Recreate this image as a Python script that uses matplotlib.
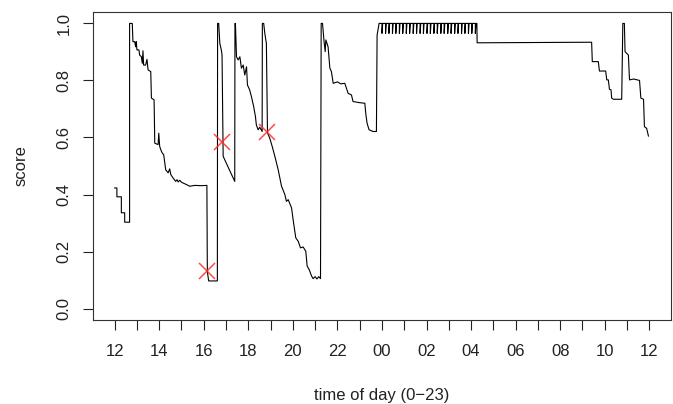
import matplotlib
matplotlib.use("Agg")
import matplotlib.pyplot as plt

# score trace, hours counted from noon (12 -> 36 = noon next day)
hours = [
    12.00, 12.10, 12.10, 12.30, 12.30, 12.45, 12.45, 12.67, 12.67, 12.79,
    12.82, 12.90, 12.94, 12.97, 13.00, 13.09, 13.12, 13.20, 13.24, 13.27,
    13.30, 13.39, 13.45, 13.50, 13.62, 13.65, 13.77, 13.80, 13.95, 13.98,
    14.02, 14.07, 14.14, 14.20, 14.29, 14.40, 14.47, 14.52, 14.62, 14.74,
    14.80, 14.85, 14.92, 15.00, 15.22, 15.37, 15.60, 15.90, 16.14, 16.16,
    16.22, 16.61, 16.62, 16.67, 16.72, 16.79, 16.82, 16.87, 17.39, 17.40,
    17.42, 17.47, 17.54, 17.62, 17.69, 17.77, 17.84, 17.92, 17.96, 18.06,
    18.14, 18.24, 18.32, 18.36, 18.44, 18.51, 18.62, 18.63, 18.69, 18.74,
    18.81, 18.86, 18.96, 19.07, 19.19, 19.34, 19.41, 19.49, 19.64, 19.71,
    19.79, 19.94, 20.01, 20.13, 20.24, 20.34, 20.46, 20.58, 20.64, 20.73,
    20.84, 20.91, 21.00, 21.08, 21.16, 21.24, 21.27, 21.33, 21.40, 21.45,
    21.48, 21.58, 21.66, 21.73, 21.81, 22.00, 22.15, 22.33, 22.48, 22.63,
    22.70, 23.00, 23.23, 23.27, 23.33, 23.42, 23.60, 23.75, 23.78, 23.87,
]
scores = [
    0.423, 0.423, 0.392, 0.392, 0.336, 0.336, 0.303, 0.303, 1.000, 1.000,
    0.936, 0.936, 0.918, 0.936, 0.907, 0.907, 0.889, 0.883, 0.860, 0.904,
    0.854, 0.854, 0.874, 0.837, 0.831, 0.738, 0.732, 0.580, 0.575, 0.615,
    0.569, 0.557, 0.545, 0.540, 0.487, 0.476, 0.490, 0.470, 0.458, 0.446,
    0.452, 0.444, 0.450, 0.443, 0.435, 0.429, 0.432, 0.431, 0.432, 0.130,
    0.097, 0.097, 1.000, 1.000, 0.930, 0.906, 0.889, 0.534, 0.446, 1.000,
    1.000, 0.883, 0.872, 0.883, 0.843, 0.854, 0.819, 0.848, 0.784, 0.767,
    0.743, 0.708, 0.673, 0.644, 0.627, 0.636, 0.621, 1.000, 1.000, 0.965,
    0.930, 0.616, 0.598, 0.569, 0.534, 0.487, 0.460, 0.429, 0.400, 0.376,
    0.382, 0.353, 0.312, 0.248, 0.236, 0.213, 0.216, 0.201, 0.149, 0.137,
    0.114, 0.105, 0.112, 0.104, 0.112, 0.105, 1.000, 1.000, 0.936, 0.901,
    0.942, 0.918, 0.843, 0.831, 0.790, 0.795, 0.788, 0.790, 0.755, 0.749,
    0.726, 0.722, 0.720, 0.685, 0.650, 0.627, 0.621, 0.621, 0.959, 1.000,
]

# night section: score sits at 1.0 with short dips
dip_hours = [
    24.00, 24.16, 24.31, 24.47, 24.62, 24.78, 24.93, 25.09, 25.24, 25.40,
    25.55, 25.71, 25.86, 26.02, 26.17, 26.33, 26.48, 26.64, 26.79, 26.95,
    27.10, 27.26, 27.41, 27.57, 27.72, 27.88, 28.03, 28.19,
]
dip_top = 1.0
dip_low = 0.965

hours_late = [
    28.26, 28.27, 33.41, 33.44, 33.71, 33.76, 34.04, 34.09, 34.16, 34.21,
    34.28, 34.31, 34.39, 34.76, 34.81, 34.88, 34.91, 35.06, 35.11, 35.30,
    35.56, 35.62, 35.74, 35.78, 35.88, 35.96,
]
scores_late = [
    1.000, 0.932, 0.934, 0.866, 0.866, 0.833, 0.833, 0.802, 0.802, 0.769,
    0.767, 0.738, 0.734, 0.734, 1.000, 1.000, 0.901, 0.889, 0.802, 0.805,
    0.800, 0.738, 0.734, 0.638, 0.632, 0.605,
]

event_hours = [16.16, 16.83, 18.85]
event_scores = [0.131, 0.583, 0.618]

tick_hours = list(range(12, 37))
label_hours = list(range(12, 37, 2))
y_ticks = [0.0, 0.2, 0.4, 0.6, 0.8, 1.0]


def main():
    plt.rcParams["font.family"] = ["Liberation Sans", "DejaVu Sans"]
    plt.rcParams["font.size"] = 12

    xs = list(hours)
    ys = list(scores)
    for d in dip_hours:
        xs += [d, d, d + 0.03]
        ys += [dip_top, dip_low, dip_top]
    xs += hours_late
    ys += scores_late

    fig = plt.figure(figsize=(6.73, 4.04), dpi=100)
    ax = fig.add_axes([0.1386, 0.2079, 0.8580, 0.7624])

    ax.plot(xs, ys, color="black", lw=0.8)
    ax.plot(event_hours, event_scores, "x", color="#ff2a2a", ms=11.5, mew=1.1,
            alpha=0.85)

    ax.set_xlim(11.04, 36.96)
    ax.set_ylim(-0.04, 1.04)

    ax.set_xticks(tick_hours)
    ax.set_xticklabels([f"{h % 24:02d}" if h in label_hours else "" for h in tick_hours])
    ax.set_yticks(y_ticks)
    ax.set_yticklabels([f"{v:.1f}" for v in y_ticks])

    ax.tick_params(direction="out", length=7.5, width=0.8, colors="#222222")
    ax.tick_params(axis="x", pad=10)
    ax.tick_params(axis="y", pad=8, labelrotation=90)
    for lab in ax.get_yticklabels():
        lab.set_va("center")

    for s in ax.spines.values():
        s.set_linewidth(0.8)
        s.set_color("#333333")

    ax.set_xlabel("time of day (0\u221223)", color="#222222")
    ax.set_ylabel("score", color="#222222")
    ax.xaxis.set_label_coords(0.5, -0.2435)
    ax.xaxis.label.set_va("center")
    ax.yaxis.set_label_coords(-0.1252, 0.5)
    ax.yaxis.label.set_va("center")

    fig.savefig("out.png", dpi=100)


if __name__ == "__main__":
    main()
